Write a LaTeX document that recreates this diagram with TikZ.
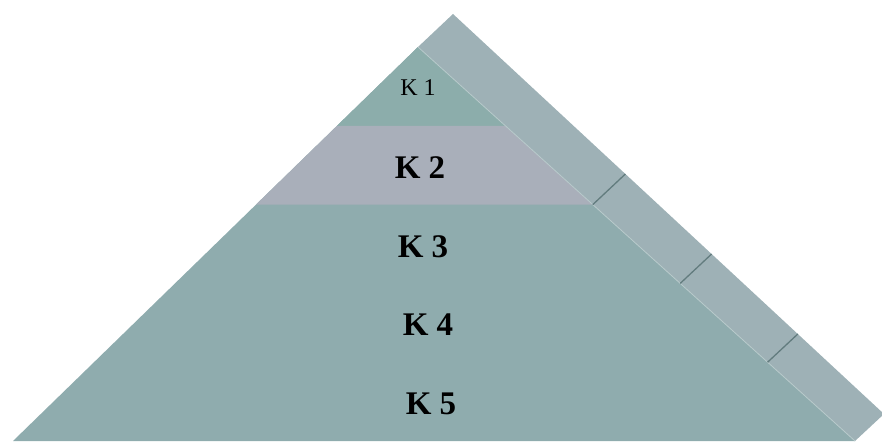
\documentclass[tikz,border=0pt]{standalone}
\usepackage{fontspec}
\setmainfont{Liberation Serif}
\usetikzlibrary{calc}

\definecolor{layerteal}{HTML}{8FACAE}
\definecolor{topteal}{HTML}{8CADAB}
\definecolor{layergray}{HTML}{A9AFBA}
\definecolor{sideface}{HTML}{9EB1B6}
\definecolor{sepline}{HTML}{627C7E}
\definecolor{ridge}{HTML}{B8CACB}

\tikzset{
    tierthin/.style={font=\fontsize{24}{24}\selectfont},
    tierbold/.style={font=\fontsize{33}{33}\selectfont\bfseries}
}

\begin{document}
\begin{tikzpicture}[x=1pt,y=-1pt]
    \useasboundingbox (0,0) rectangle (882,441);
    \clip (0,0) rectangle (882,441);

    \coordinate (apex) at (418,47);
    \coordinate (bl) at (13,441);
    \coordinate (br) at (855,441);
    \coordinate (top) at (453,14);
    \coordinate (out) at (884,414);

    % side face
    \fill[sideface] (apex) -- (top) -- (out) -- (br) -- cycle;

    % front face, then the two upper layers over it
    \fill[layerteal] (apex) -- (bl) -- (br) -- cycle;
    \fill[topteal] (apex) -- ($(apex)!.2!(bl)$) -- ($(apex)!.2!(br)$) -- cycle;
    \fill[layergray] ($(apex)!.2!(bl)$) -- ($(apex)!.4!(bl)$)
        -- ($(apex)!.4!(br)$) -- ($(apex)!.2!(br)$) -- cycle;

    \draw[ridge,line width=.8pt] (apex) -- (br);

    \foreach \t in {0.4,0.6,0.8}
        \draw[sepline,line width=1.3pt] ($(apex)!\t!(br)$) -- ($(top)!\t!(out)$);

    \node[tierthin] (k1) at (418,88) {K 1};
    \foreach \i/\x/\y in {2/420/168,3/423/247,4/428/325,5/431/404}
        \node[tierbold] (k\i) at (\x,\y) {K \i};
\end{tikzpicture}
\end{document}
